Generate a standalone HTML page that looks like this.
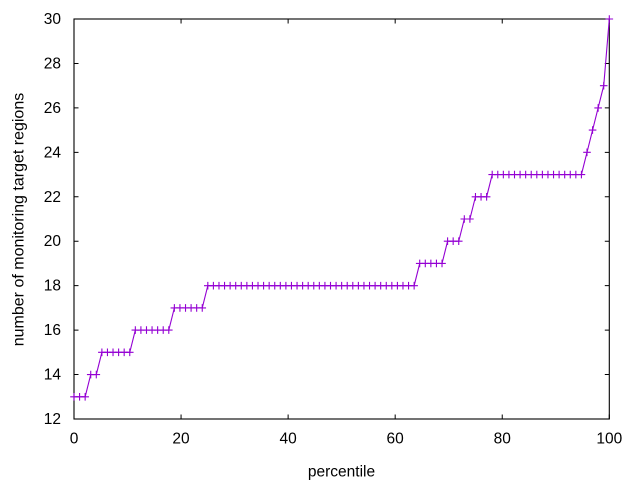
<!DOCTYPE html>
<html>
<head>
<meta charset="utf-8">
<style>
  html, body { margin: 0; padding: 0; background: #ffffff; }
  svg { display: block; }
  text { font-family: "Liberation Sans", "DejaVu Sans", sans-serif; fill: #000; }
</style>
</head>
<body>
<svg width="640" height="480" viewBox="0 0 640 480" xmlns="http://www.w3.org/2000/svg">
  <defs>
    <marker id="plus" markerUnits="userSpaceOnUse" markerWidth="10" markerHeight="10" refX="5" refY="5" overflow="visible">
      <path d="M1.2 5 H8.8 M5 1.2 V8.8" stroke="#9400d3" stroke-width="1.1" fill="none"/>
    </marker>
  </defs>
  <rect x="0" y="0" width="640" height="480" fill="#ffffff"/>

  <!-- ticks -->
  <g stroke="#000" stroke-width="1" fill="none">
    <!-- y ticks left and right -->
    <path d="M74 419 h4.5 M74 374.56 h4.5 M74 330.11 h4.5 M74 285.67 h4.5 M74 241.22 h4.5 M74 196.78 h4.5 M74 152.33 h4.5 M74 107.89 h4.5 M74 63.44 h4.5 M74 19 h4.5"/>
    <path d="M609.3 419 h-4.5 M609.3 374.56 h-4.5 M609.3 330.11 h-4.5 M609.3 285.67 h-4.5 M609.3 241.22 h-4.5 M609.3 196.78 h-4.5 M609.3 152.33 h-4.5 M609.3 107.89 h-4.5 M609.3 63.44 h-4.5 M609.3 19 h-4.5"/>
    <!-- x ticks bottom and top -->
    <path d="M74 419 v-4.5 M181.06 419 v-4.5 M288.12 419 v-4.5 M395.18 419 v-4.5 M502.24 419 v-4.5 M609.3 419 v-4.5"/>
    <path d="M74 19 v4.5 M181.06 19 v4.5 M288.12 19 v4.5 M395.18 19 v4.5 M502.24 19 v4.5 M609.3 19 v4.5"/>
    <!-- frame -->
    <rect x="74" y="19" width="535.3" height="400" stroke-width="1.1"/>
  </g>

  <!-- y tick labels -->
  <g font-size="15.5" text-anchor="end">
    <text x="61" y="424">12</text>
    <text x="61" y="379.56">14</text>
    <text x="61" y="335.11">16</text>
    <text x="61" y="290.67">18</text>
    <text x="61" y="246.22">20</text>
    <text x="61" y="201.78">22</text>
    <text x="61" y="157.33">24</text>
    <text x="61" y="112.89">26</text>
    <text x="61" y="68.44">28</text>
    <text x="61" y="24">30</text>
  </g>

  <!-- x tick labels -->
  <g font-size="15.5" text-anchor="middle">
    <text x="74" y="443.5">0</text>
    <text x="181.06" y="443.5">20</text>
    <text x="288.12" y="443.5">40</text>
    <text x="395.18" y="443.5">60</text>
    <text x="502.24" y="443.5">80</text>
    <text x="609.3" y="443.5">100</text>
  </g>

  <!-- axis labels -->
  <text x="341.5" y="476.5" font-size="15.5" text-anchor="middle">percentile</text>
  <text transform="translate(23.5,219.5) rotate(-90)" font-size="16" text-anchor="middle">number of monitoring target regions</text>

  <!-- data series -->
  <polyline fill="none" stroke="#9400d3" stroke-width="1.1"
    marker-start="url(#plus)" marker-mid="url(#plus)" marker-end="url(#plus)"
    points="
74.00,396.78 79.58,396.78 85.15,396.78
90.73,374.56 96.30,374.56
101.88,352.33 107.46,352.33 113.03,352.33 118.61,352.33 124.18,352.33 129.76,352.33
135.34,330.11 140.91,330.11 146.49,330.11 152.06,330.11 157.64,330.11 163.22,330.11 168.79,330.11
174.37,307.89 179.94,307.89 185.52,307.89 191.10,307.89 196.67,307.89 202.25,307.89
207.82,285.67 213.40,285.67 218.98,285.67 224.55,285.67 230.13,285.67 235.70,285.67 241.28,285.67 246.86,285.67 252.43,285.67 258.01,285.67
263.58,285.67 269.16,285.67 274.74,285.67 280.31,285.67 285.89,285.67 291.46,285.67 297.04,285.67 302.62,285.67 308.19,285.67 313.77,285.67
319.34,285.67 324.92,285.67 330.50,285.67 336.07,285.67 341.65,285.67 347.22,285.67 352.80,285.67 358.38,285.67 363.95,285.67 369.53,285.67
375.10,285.67 380.68,285.67 386.26,285.67 391.83,285.67 397.41,285.67 402.98,285.67 408.56,285.67 414.14,285.67
419.71,263.44 425.29,263.44 430.86,263.44 436.44,263.44 442.02,263.44
447.59,241.22 453.17,241.22 458.74,241.22
464.32,219.00 469.90,219.00
475.47,196.78 481.05,196.78 486.62,196.78
492.20,174.56 497.78,174.56 503.35,174.56 508.93,174.56 514.50,174.56 520.08,174.56 525.66,174.56 531.23,174.56 536.81,174.56
542.38,174.56 547.96,174.56 553.54,174.56 559.11,174.56 564.69,174.56 570.26,174.56 575.84,174.56 581.42,174.56
586.99,152.33 592.57,130.11 598.14,107.89 603.72,85.67 609.30,19.00"/>
</svg>
</body>
</html>
